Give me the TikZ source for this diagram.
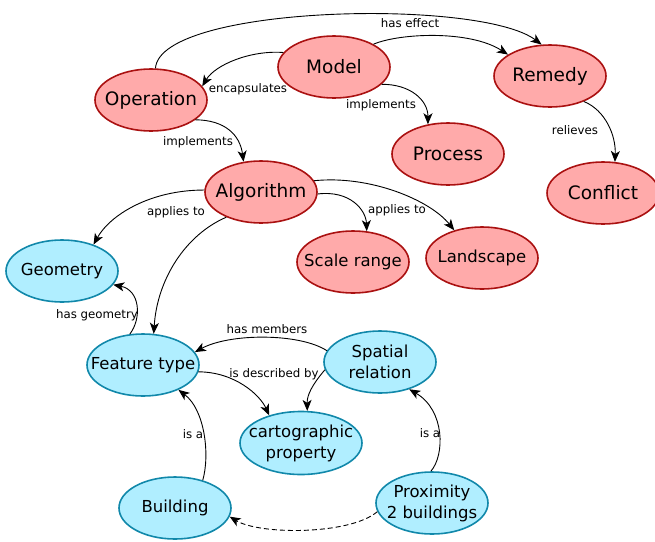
\documentclass[tikz,border=0pt]{standalone}
\usepackage{fontspec}
\setmainfont{DejaVu Sans}
\usetikzlibrary{shapes.geometric,arrows.meta}
\definecolor{redfill}{RGB}{255,170,170}
\definecolor{redline}{RGB}{170,17,17}
\definecolor{bluefill}{RGB}{176,238,255}
\definecolor{blueline}{RGB}{17,136,170}
\tikzset{
  base/.style={ellipse, minimum width=112pt, minimum height=62pt, inner sep=-40pt, line width=1.6pt, align=center},
  rnode/.style={base, draw=redline, fill=redfill, font=\fontsize{18.5}{20}\selectfont},
  rsnode/.style={base, draw=redline, fill=redfill, font=\fontsize{16.5}{19}\selectfont},
  bnode/.style={base, draw=blueline, fill=bluefill, font=\fontsize{16.5}{21}\selectfont},
  lab/.style={font=\fontsize{11.8}{13}\selectfont, inner sep=0pt},
  edge/.style={line width=0.9pt, -{Stealth[length=11pt,width=9pt,inset=3pt]}},
  dashedge/.style={edge, dash pattern=on 5pt off 3pt},
}
\begin{document}
\begin{tikzpicture}[x=1pt,y=-1pt]
\useasboundingbox (0,0) rectangle (655,541);
% nodes
\node[rnode] (model) at (334,67) {Model};
\node[rnode] (operation) at (151,100) {Operation};
\node[rnode] (remedy) at (550,76) {Remedy};
\node[rnode] (process) at (448,154) {Process};
\node[rnode] (conflict) at (603,193) {Conflict};
\node[rnode] (algorithm) at (261,192) {Algorithm};
\node[rsnode] (scale) at (353,262) {Scale range};
\node[rsnode] (landscape) at (482,258) {Landscape};
\node[bnode] (geometry) at (62,271) {Geometry};
\node[bnode] (feature) at (143,365) {Feature type};
\node[bnode] (spatial) at (380,362) {Spatial\\relation};
\node[bnode, minimum width=122pt, minimum height=63pt] (cart) at (301,443) {cartographic\\property};
\node[bnode] (building) at (175,508) {Building};
\node[bnode] (prox) at (432,503) {Proximity\\2 buildings};
% edges
\draw[edge] (operation.82) .. controls (160,5) and (480,-2) .. (remedy.105);
\draw[edge] (model.30) .. controls (400,33) and (470,30) .. (remedy.153);
\draw[edge] (model.164) .. controls (250,50) and (215,65) .. (operation.15);
\draw[edge] (model.-20) .. controls (410,84) and (428,100) .. (process.124);
\draw[edge] (remedy.-37) .. controls (605,110) and (616,135) .. (conflict.69);
\draw[edge] (operation.-24) .. controls (225,120) and (240,135) .. (algorithm.120);
\draw[edge] (algorithm.178) .. controls (150,190) and (110,215) .. (geometry.40);
\draw[edge] (algorithm.216) .. controls (185,235) and (157,280) .. (feature.71);
\draw[edge] (algorithm.-2) .. controls (350,190) and (366,210) .. (scale.66);
\draw[edge] (algorithm.12) .. controls (370,175) and (430,200) .. (landscape.135);
\draw[edge] (feature.113) .. controls (142,318) and (140,290) .. (geometry.-15);
\draw[edge] (spatial.168) .. controls (300,333) and (230,333) .. (feature.14);
\draw[edge] (feature.-7) .. controls (235,372) and (260,395) .. (cart.139);
\draw[edge] (spatial.188) .. controls (312,385) and (307,395) .. (cart.79);
\draw[edge] (building.45) .. controls (210,455) and (205,410) .. (feature.-35);
\draw[edge] (prox.92) .. controls (445,455) and (445,410) .. (spatial.-43);
\draw[dashedge] (prox.189) .. controls (350,535) and (260,535) .. (building.-9);
% labels
\node[lab] (l1) at (410,23) {has effect};
\node[lab] (l2) at (248,89) {encapsulates};
\node[lab] (l3) at (381,105) {implements};
\node[lab] (l4) at (575,130) {relieves};
\node[lab] (l5) at (198,142) {implements};
\node[lab] (l6) at (176,212) {applies to};
\node[lab] (l7) at (397,210) {applies to};
\node[lab] (l8) at (97,315) {has geometry};
\node[lab] (l9) at (267,329) {has members};
\node[lab] (l10) at (274,374) {is described by};
\node[lab] (l11) at (193,434) {is a};
\node[lab] (l12) at (430,433) {is a};
\end{tikzpicture}
\end{document}
